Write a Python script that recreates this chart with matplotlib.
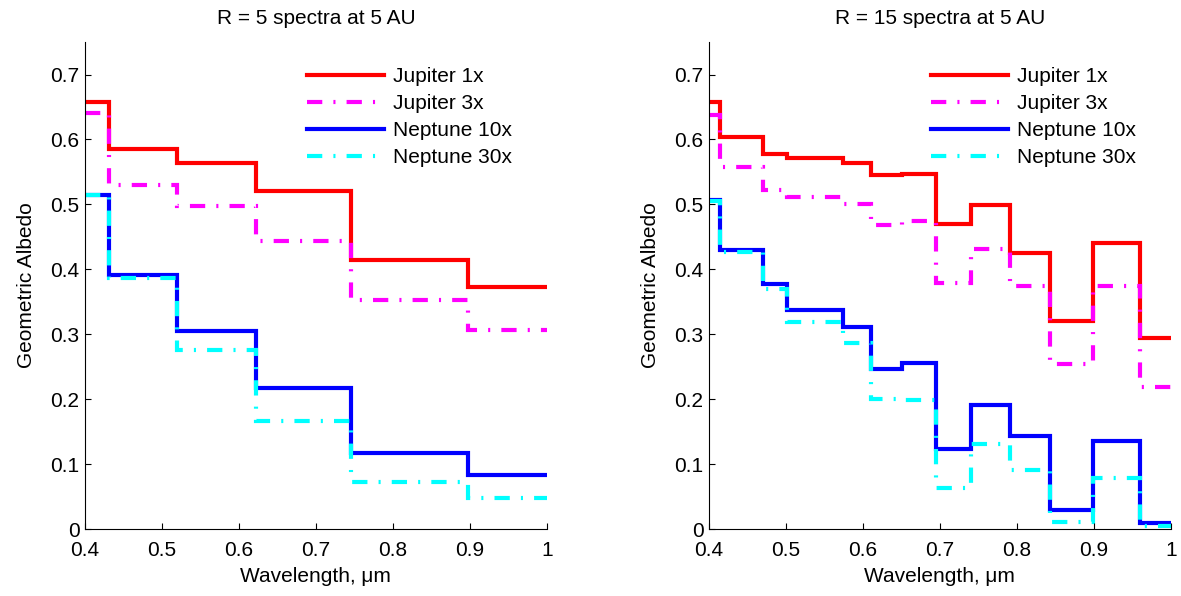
import matplotlib
matplotlib.use("Agg")
import matplotlib.pyplot as plt
import matplotlib.ticker as ticker

plt.rcParams['font.family'] = ['Liberation Sans', 'DejaVu Sans']
plt.rcParams['font.size'] = 15
plt.rcParams['lines.scale_dashes'] = False

# R = 5 bins (micron edges) and albedo in each bin
edges_r5 = [0.4, 0.431, 0.519, 0.622, 0.746, 0.897, 1.0]
jup1_r5 = [0.657, 0.585, 0.563, 0.520, 0.414, 0.373]
jup3_r5 = [0.640, 0.530, 0.497, 0.443, 0.352, 0.306]
nep10_r5 = [0.515, 0.391, 0.305, 0.217, 0.117, 0.083]
nep30_r5 = [0.515, 0.387, 0.275, 0.166, 0.072, 0.047]

# R = 15 bins
edges_r15 = [0.4, 0.414, 0.4705, 0.502, 0.574, 0.610, 0.651, 0.695,
             0.740, 0.791, 0.843, 0.899, 0.960, 1.0]
jup1_r15 = [0.657, 0.604, 0.578, 0.572, 0.564, 0.545, 0.547,
            0.470, 0.499, 0.425, 0.320, 0.440, 0.294]
jup3_r15 = [0.637, 0.557, 0.522, 0.512, 0.501, 0.469, 0.474,
            0.379, 0.432, 0.374, 0.254, 0.374, 0.218]
nep10_r15 = [0.506, 0.430, 0.377, 0.338, 0.311, 0.246, 0.256,
             0.123, 0.191, 0.144, 0.030, 0.135, 0.009]
nep30_r15 = [0.505, 0.427, 0.370, 0.319, 0.286, 0.201, 0.199,
             0.063, 0.131, 0.091, 0.011, 0.079, 0.004]

labels = ['Jupiter 1x', 'Jupiter 3x', 'Neptune 10x', 'Neptune 30x']
colors = ['#ff0000', '#ff00ff', '#0000ff', '#00ffff']
dashdot = (11, 8, 1.5, 8)

panels = [
    ('R = 5 spectra at 5 AU', edges_r5, [jup1_r5, jup3_r5, nep10_r5, nep30_r5]),
    ('R = 15 spectra at 5 AU', edges_r15, [jup1_r15, jup3_r15, nep10_r15, nep30_r15]),
]

fig = plt.figure(figsize=(11.81, 5.96), dpi=100)
lefts = [0.072, 0.6003]

for left, (title, edges, series) in zip(lefts, panels):
    ax = fig.add_axes([left, 0.1124, 0.391, 0.817])
    for k, (vals, lab, col) in enumerate(zip(series, labels, colors)):
        st = ax.stairs(vals, edges, baseline=None, color=col, linewidth=3, label=lab)
        # the 3x / 30x curves are dash-dot
        if k % 2 == 1:
            st.set_linestyle((0, dashdot))
    ax.set_xlim(0.4, 1.0)
    ax.set_ylim(0, 0.75)
    ax.set_xticks([0.4, 0.5, 0.6, 0.7, 0.8, 0.9, 1.0])
    ax.set_yticks([0, 0.1, 0.2, 0.3, 0.4, 0.5, 0.6, 0.7])
    ax.xaxis.set_major_formatter(ticker.FormatStrFormatter('%g'))
    ax.yaxis.set_major_formatter(ticker.FormatStrFormatter('%g'))
    ax.tick_params(direction='in', length=4, width=0.8, labelsize=15, pad=4)
    ax.tick_params(axis='x', pad=8.5)
    ax.spines['top'].set_visible(False)
    ax.spines['right'].set_visible(False)
    ax.set_title(title, fontsize=15, pad=13)
    ax.set_xlabel('Wavelength, \u03bcm', fontsize=15, labelpad=5)
    ax.set_ylabel('Geometric Albedo', fontsize=15, labelpad=10)
    ax.legend(loc='upper left', bbox_to_anchor=(0.48, 0.948), frameon=False,
              handlelength=3.7, handletextpad=0.45, labelspacing=0.38,
              borderpad=0, borderaxespad=0, fontsize=15)

fig.savefig('out.png', dpi=100)
